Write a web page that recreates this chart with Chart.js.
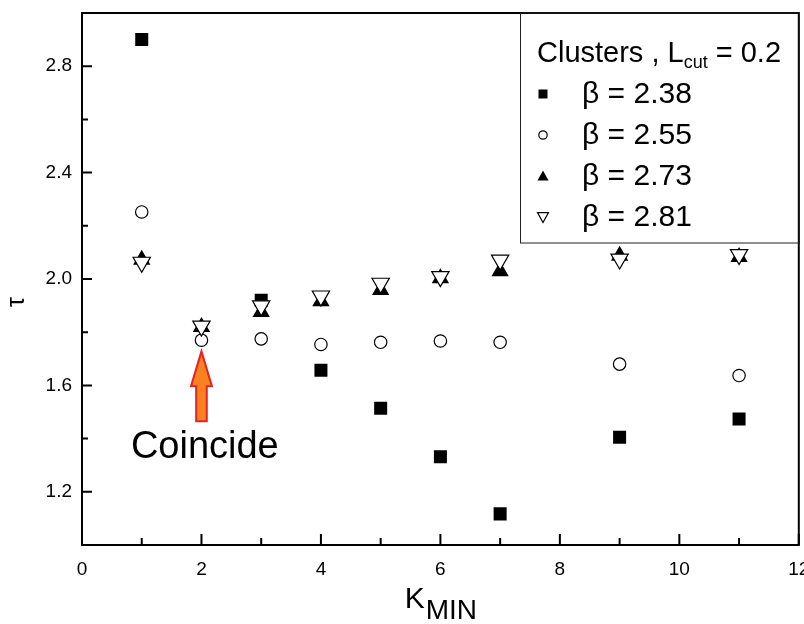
<!DOCTYPE html>
<html>
<head>
<meta charset="utf-8">
<script src="https://cdn.jsdelivr.net/npm/chart.js@4.4.1/dist/chart.umd.min.js"></script>
<style>
  html, body { margin: 0; padding: 0; background: #fff; overflow: hidden; }
  #wrap { width: 804px; height: 624px; overflow: hidden; }
</style>
</head>
<body>
<div id="wrap"><canvas id="tauChart" width="810" height="624"></canvas></div>
<script>
// values (tau vs K_MIN, clusters with L_cut = 0.2)
const kMin = [1, 2, 3, 4, 5, 6, 7, 9, 11];
const tau238 = [2.90, null, 1.92, 1.657, 1.514, 1.332, 1.117, 1.405, 1.474];
const tau255 = [2.252, 1.77, 1.775, 1.754, 1.762, 1.767, 1.762, 1.680, 1.637];
const tau273 = [2.072, 1.820, 1.876, 1.916, 1.959, 2.003, 2.029, 2.087, 2.083];
const tau281 = [2.063, 1.823, 1.899, 1.936, 1.984, 2.009, 2.071, 2.075, 2.092];
const betaLabels = ['2.38', '2.55', '2.73', '2.81'];
const xTicks = [0, 2, 4, 6, 8, 10, 12];
const yTicks = [1.2, 1.6, 2.0, 2.4, 2.8];

const FONT = 'Arial, "Liberation Sans", sans-serif';

function toPoints(values) {
  return kMin.map((k, i) => ({ x: k, y: values[i] }));
}

// midpoints between majors (plus the half steps at both ends)
function minorTicks(majors, min, max) {
  const step = majors[1] - majors[0];
  const out = [];
  for (let i = -1; i < majors.length; i++) {
    const v = (i < 0 ? majors[0] - step : majors[i]) + step / 2;
    if (v >= min - 1e-9 && v <= max + 1e-9) out.push(v);
  }
  return out;
}

function drawSymbol(ctx, kind, x, y, r) {
  ctx.save();
  ctx.lineWidth = 1.2;
  ctx.strokeStyle = '#000';
  ctx.fillStyle = '#000';
  ctx.beginPath();
  if (kind === 'square') {
    ctx.rect(x - r, y - r, 2 * r, 2 * r);
    ctx.fill();
  } else if (kind === 'circle') {
    ctx.arc(x, y, r, 0, Math.PI * 2);
    ctx.fillStyle = '#fff';
    ctx.fill();
    ctx.stroke();
  } else if (kind === 'up') {
    ctx.moveTo(x, y - r);
    ctx.lineTo(x + r, y + r * 0.8);
    ctx.lineTo(x - r, y + r * 0.8);
    ctx.closePath();
    ctx.fill();
  } else {
    ctx.moveTo(x, y + r);
    ctx.lineTo(x + r, y - r * 0.8);
    ctx.lineTo(x - r, y - r * 0.8);
    ctx.closePath();
    ctx.fillStyle = '#fff';
    ctx.fill();
    ctx.stroke();
  }
  ctx.restore();
}

const overlay = {
  id: 'overlay',
  afterDraw(chart) {
    const { ctx, chartArea: a, scales: { x, y } } = chart;
    ctx.save();

    // frame
    ctx.strokeStyle = '#000';
    ctx.lineWidth = 2;
    ctx.strokeRect(a.left, a.top, a.right - a.left, a.bottom - a.top);

    // inward ticks
    ctx.beginPath();
    xTicks.forEach(v => { const p = x.getPixelForValue(v); ctx.moveTo(p, a.bottom); ctx.lineTo(p, a.bottom - 11); });
    minorTicks(xTicks, 0, 12).forEach(v => { const p = x.getPixelForValue(v); ctx.moveTo(p, a.bottom); ctx.lineTo(p, a.bottom - 7); });
    yTicks.forEach(v => { const p = y.getPixelForValue(v); ctx.moveTo(a.left, p); ctx.lineTo(a.left + 10, p); });
    minorTicks(yTicks, 1, 3).forEach(v => { const p = y.getPixelForValue(v); ctx.moveTo(a.left, p); ctx.lineTo(a.left + 6, p); });
    ctx.stroke();

    // axis titles
    ctx.fillStyle = '#000';
    ctx.textBaseline = 'alphabetic';
    ctx.textAlign = 'left';
    const cx = (a.left + a.right) / 2;
    ctx.font = '30px ' + FONT;
    const kW = ctx.measureText('K').width;
    ctx.font = '28px ' + FONT;
    const minW = ctx.measureText('MIN').width;
    const x0 = cx - (kW + minW) / 2;
    ctx.font = '30px ' + FONT;
    ctx.fillText('K', x0, 608);
    ctx.font = '28px ' + FONT;
    ctx.fillText('MIN', x0 + kW + 1, 619);

    ctx.save();
    ctx.translate(24, 302);
    ctx.rotate(-Math.PI / 2);
    ctx.textAlign = 'center';
    ctx.font = '25px ' + FONT;
    ctx.fillText('\u03c4', 0, 0);
    ctx.restore();

    // legend box
    const lx = 520, ly = a.top, lb = 243;
    ctx.lineWidth = 1;
    ctx.strokeStyle = '#222';
    ctx.strokeRect(lx + 0.5, ly, a.right - lx, lb - ly);

    ctx.font = '29px ' + FONT;
    let tx = 537;
    ctx.fillText('Clusters , L', tx, 62);
    tx += ctx.measureText('Clusters , L').width;
    ctx.font = '18px ' + FONT;
    ctx.fillText('cut', tx, 68);
    tx += ctx.measureText('cut').width;
    ctx.font = '29px ' + FONT;
    ctx.fillText(' = 0.2', tx, 62);

    const kinds = ['square', 'circle', 'up', 'down'];
    const sizes = [4.5, 4.2, 5.5, 5.5];
    const rowBase = [103, 144, 185, 226];
    ctx.font = '30px ' + FONT;
    betaLabels.forEach((b, i) => {
      drawSymbol(ctx, kinds[i], 543, rowBase[i] - 9, sizes[i]);
      ctx.fillText('\u03b2 = ' + b, 582, rowBase[i]);
    });

    // "Coincide" arrow
    const ax = x.getPixelForValue(2);
    const tip = y.getPixelForValue(1.728);
    const base = y.getPixelForValue(1.465);
    const headLen = 35, headHalf = 10.5, shaftHalf = 5.3;
    ctx.beginPath();
    ctx.moveTo(ax, tip);
    ctx.lineTo(ax + headHalf, tip + headLen);
    ctx.lineTo(ax + shaftHalf, tip + headLen);
    ctx.lineTo(ax + shaftHalf, base);
    ctx.lineTo(ax - shaftHalf, base);
    ctx.lineTo(ax - shaftHalf, tip + headLen);
    ctx.lineTo(ax - headHalf, tip + headLen);
    ctx.closePath();
    ctx.fillStyle = '#f7821e';
    ctx.fill();
    ctx.lineWidth = 2;
    ctx.strokeStyle = '#e52428';
    ctx.stroke();

    ctx.fillStyle = '#000';
    ctx.font = '38px ' + FONT;
    ctx.textAlign = 'center';
    ctx.textBaseline = 'middle';
    ctx.fillText('Coincide', x.getPixelForValue(2.056), y.getPixelForValue(1.368));

    ctx.restore();
  }
};

const tickFont = { family: FONT, size: 19 };

new Chart(document.getElementById('tauChart'), {
  type: 'scatter',
  data: {
    datasets: [
      { label: '\u03b2 = ' + betaLabels[0], data: toPoints(tau238), order: 4,
        pointStyle: 'rect', pointRadius: 9.2, backgroundColor: '#000', borderColor: '#000', borderWidth: 0 },
      { label: '\u03b2 = ' + betaLabels[1], data: toPoints(tau255), order: 3,
        pointStyle: 'circle', pointRadius: 6.2, backgroundColor: '#fff', borderColor: '#000', borderWidth: 1.2 },
      { label: '\u03b2 = ' + betaLabels[2], data: toPoints(tau273), order: 2,
        pointStyle: 'triangle', pointRadius: 10, backgroundColor: '#000', borderColor: '#000', borderWidth: 0 },
      { label: '\u03b2 = ' + betaLabels[3], data: toPoints(tau281), order: 1,
        pointStyle: 'triangle', pointRotation: 180, pointRadius: 10, backgroundColor: '#fff', borderColor: '#000', borderWidth: 1.2 }
    ]
  },
  options: {
    responsive: false,
    animation: false,
    layout: { padding: { top: 13, right: 5, left: 0, bottom: 0 } },
    plugins: { legend: { display: false }, tooltip: { enabled: false } },
    scales: {
      x: {
        type: 'linear',
        min: 0,
        max: 12,
        afterBuildTicks: s => { s.ticks = xTicks.map(v => ({ value: v })); },
        afterFit: s => { s.height = 79; s.paddingLeft = 0; s.paddingRight = 0; },
        grid: { display: false, drawTicks: false },
        border: { display: false },
        ticks: { color: '#000', font: tickFont, padding: 13, maxRotation: 0, autoSkip: false, callback: v => String(v) }
      },
      y: {
        type: 'linear',
        min: 1,
        max: 3,
        afterBuildTicks: s => { s.ticks = yTicks.map(v => ({ value: v })); },
        afterFit: s => { s.width = 82; s.paddingTop = 0; s.paddingBottom = 0; },
        grid: { display: false, drawTicks: false },
        border: { display: false },
        ticks: { color: '#000', font: tickFont, padding: 10, autoSkip: false, callback: v => v.toFixed(1) }
      }
    }
  },
  plugins: [overlay]
});
</script>
</body>
</html>
